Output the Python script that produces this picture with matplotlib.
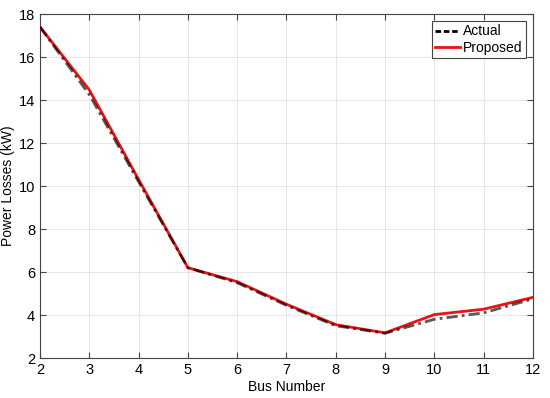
import numpy as np
import matplotlib.pyplot as plt

plt.rcParams['font.family'] = ['Liberation Sans', 'DejaVu Sans']

bus = [2, 3, 4, 5, 6, 7, 8, 9, 10, 11, 12]
actual = [17.4, 14.25, 10.2, 6.2, 5.5, 4.45, 3.5, 3.15, 3.8, 4.1, 4.75]
proposed = [17.4, 14.47, 10.3, 6.2, 5.55, 4.5, 3.55, 3.17, 4.02, 4.27, 4.82]

fig = plt.figure(figsize=(5.5, 3.98), dpi=100)
ax = fig.add_axes([0.0727, 0.1005, 0.8963, 0.8643])

ax.plot(bus, proposed, color='#ee1111', lw=2.0, label='Proposed', zorder=3)
ax.plot(bus, actual, color='black', lw=2.0, ls=(0, (4, 1.5, 1, 1.5)), label='Actual', zorder=4, alpha=0.65)

ax.set_xlim(2, 12)
ax.set_ylim(2, 18)
ax.set_xticks(range(2, 13))
ax.set_yticks(range(2, 19, 2))
ax.grid(True, color='#e6e6e6', lw=0.7)
ax.set_axisbelow(True)
ax.tick_params(direction='in', top=True, right=True, labelsize=10.5, length=4, color='#444444')
for s in ax.spines.values():
    s.set_color('#444444')
    s.set_linewidth(0.8)

ax.set_xlabel('Bus Number', fontsize=10, labelpad=2)
ax.set_ylabel('Power Losses (kW)', fontsize=10, labelpad=3)

h, l = ax.get_legend_handles_labels()
leg = ax.legend([h[1], h[0]], [l[1], l[0]], loc='upper right', fontsize=10,
                fancybox=False, framealpha=1, edgecolor='#444444',
                handlelength=1.8, handletextpad=0.2, borderpad=0.25,
                labelspacing=0.15, borderaxespad=0.5)
leg.get_frame().set_linewidth(0.8)
leg.legend_handles[0].set_alpha(1)
leg.legend_handles[0].set_linestyle((0, (2, 1)))

fig.savefig('out.png', dpi=100)
